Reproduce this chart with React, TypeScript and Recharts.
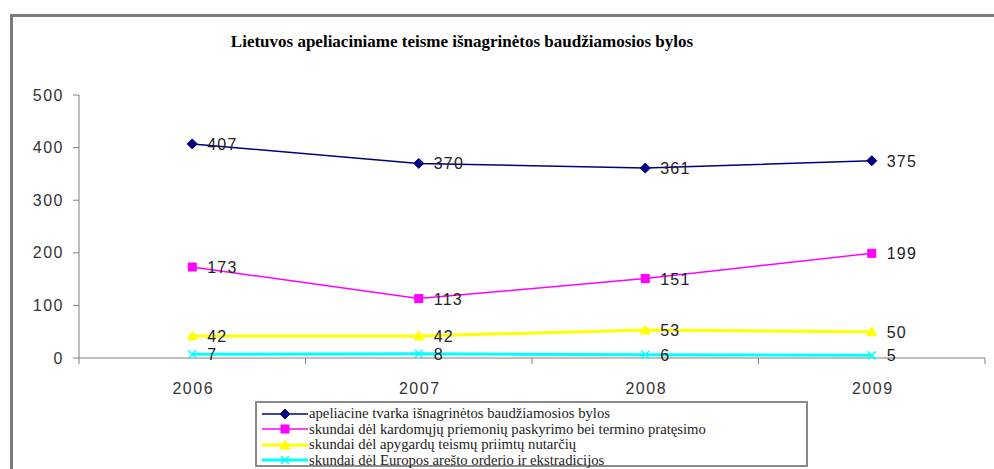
import React from "react";
import { LineChart, Line, XAxis, YAxis, LabelList } from "recharts";

const years = ["2006", "2007", "2008", "2009"];
const apeliacine = [407, 370, 361, 375];
const kardomosios = [173, 113, 151, 199];
const apygardu = [42, 42, 53, 50];
const europos = [7, 8, 6, 5];
const yTicks = [0, 100, 200, 300, 400, 500];
const title = "Lietuvos apeliaciniame teisme išnagrinėtos baudžiamosios bylos";
const seriesNames = [
  "apeliacine tvarka išnagrinėtos baudžiamosios bylos",
  "skundai dėl kardomųjų priemonių paskyrimo bei termino pratęsimo",
  "skundai dėl apygardų teismų priimtų nutarčių",
  "skundai dėl Europos arešto orderio ir ekstradicijos",
];

const data = years.map((y, i) => ({
  x: i,
  year: y,
  a: apeliacine[i],
  b: kardomosios[i],
  c: apygardu[i],
  d: europos[i],
}));

const colors = ["#000080", "#FF00FF", "#FFFF00", "#00FFFF"];
const widths = [1.5, 1.5, 3, 3];
const keys = ["a", "b", "c", "d"];
const shapes = ["diamond", "square", "triangle", "x"];

function Marker({ cx, cy, shape, color }: any) {
  if (cx == null || cy == null) return null;
  if (shape === "diamond")
    return <path d={`M${cx},${cy - 5}L${cx + 5},${cy}L${cx},${cy + 5}L${cx - 5},${cy}Z`} fill={color} stroke={color} />;
  if (shape === "square")
    return <rect x={cx - 4} y={cy - 4} width={8} height={8} fill={color} stroke={color} />;
  if (shape === "triangle")
    return <path d={`M${cx},${cy - 5}L${cx + 5},${cy + 4}L${cx - 5},${cy + 4}Z`} fill={color} stroke={color} />;
  return (
    <g stroke={color} strokeWidth={1.5}>
      <line x1={cx - 4} y1={cy - 4} x2={cx + 4} y2={cy + 4} />
      <line x1={cx - 4} y1={cy + 4} x2={cx + 4} y2={cy - 4} />
    </g>
  );
}

function XTick({ x, y, payload }: any) {
  const v = payload.value;
  if (Math.abs(v - Math.round(v)) > 0.1) {
    return <line x1={x} y1={y - 8} x2={x} y2={y - 2} stroke="#808080" />;
  }
  return (
    <text x={x + 1} y={y + 28} textAnchor="middle" fontSize={16} letterSpacing={1.5} fill="#333" fontFamily="Liberation Sans, Arial">
      {years[Math.round(v)]}
    </text>
  );
}

function YTick({ x, y, payload }: any) {
  return (
    <text x={x + 1} y={y + 5.5} textAnchor="end" fontSize={16} letterSpacing={1.5} fill="#333" fontFamily="Liberation Sans, Arial">
      {payload.value}
    </text>
  );
}

function DataLabel({ x, y, value }: any) {
  return (
    <text x={x + 15} y={y + 6} fontSize={16} letterSpacing={1.2} fill="#222" fontFamily="Liberation Sans, Arial">
      {value}
    </text>
  );
}

export default function App() {
  return (
    <div style={{ position: "absolute", left: 0, top: 0, width: 994, height: 469, overflow: "hidden", background: "#fff" }}>
      <div
        style={{
          position: "absolute",
          left: 0,
          width: 924,
          top: 32,
          textAlign: "center",
          fontFamily: "Liberation Serif, Times New Roman",
          fontWeight: "bold",
          fontSize: 17,
          color: "#000",
        }}
      >
        {title}
      </div>
      <div style={{ position: "absolute", left: 0, top: 0 }}>
        <LineChart width={994} height={469} data={data} margin={{ top: 95, right: 9, bottom: 81, left: 19 }}>
          <XAxis
            dataKey="x"
            type="number"
            domain={[-0.5, 3.5]}
            ticks={[-0.5, 0, 0.5, 1, 1.5, 2, 2.5, 3, 3.5]}
            interval={0}
            height={30}
            tickLine={false}
            axisLine={{ stroke: "#808080" }}
            tick={<XTick />}
            tickSize={6}
            tickMargin={2}
          />
          <YAxis
            domain={[0, 500]}
            ticks={yTicks}
            width={60}
            axisLine={{ stroke: "#808080" }}
            tickLine={{ stroke: "#808080" }}
            tickSize={6}
            tickMargin={10}
            tick={<YTick />}
          />
          {keys.map((k, i) => (
            <Line
              key={k}
              dataKey={k}
              name={seriesNames[i]}
              stroke={colors[i]}
              strokeWidth={widths[i]}
              isAnimationActive={false}
              dot={(p: any) => <Marker key={`${k}-${p.index}`} cx={p.cx} cy={p.cy} shape={shapes[i]} color={colors[i]} />}
              activeDot={false}
            >
              <LabelList dataKey={k} content={<DataLabel />} />
            </Line>
          ))}
        </LineChart>
      </div>
      <div
        style={{
          position: "absolute",
          left: 255,
          top: 401,
          width: 553,
          height: 66,
          border: "2px solid #8a8a8a",
          boxSizing: "border-box",
          fontFamily: "Liberation Serif, Times New Roman",
          fontSize: 14.7,
          color: "#222",
          background: "#fff",
        }}
      >
        {seriesNames.map((n, i) => (
          <div key={n} style={{ position: "absolute", left: 3, top: 3 + i * 15.5, height: 15.5, display: "flex", alignItems: "center" }}>
            <svg width={48} height={14} style={{ marginRight: 1 }}>
              <line x1={2} y1={7} x2={48} y2={7} stroke={colors[i]} strokeWidth={widths[i]} />
              <Marker cx={25} cy={7} shape={shapes[i]} color={colors[i]} />
            </svg>
            <span style={{ lineHeight: "15.5px", whiteSpace: "nowrap" }}>{n}</span>
          </div>
        ))}
      </div>
      <div
        style={{
          position: "absolute",
          left: 10,
          top: 14,
          width: 1000,
          height: 500,
          borderLeft: "3px solid #7a7a7a",
          borderTop: "3px solid #7a7a7a",
          boxSizing: "border-box",
          zIndex: 10,
          pointerEvents: "none",
        }}
      />
    </div>
  );
}
